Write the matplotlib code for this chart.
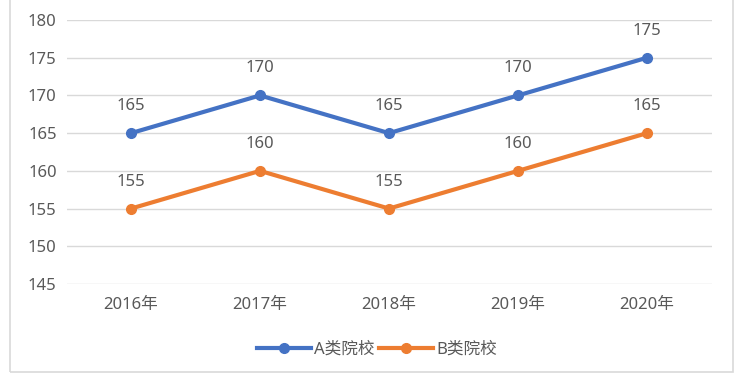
import matplotlib.pyplot as plt
from matplotlib.patches import Rectangle

plt.rcParams['font.family'] = ['Noto Sans', 'Noto Sans CJK SC', 'DejaVu Sans']

years = ["2016年", "2017年", "2018年", "2019年", "2020年"]
school_a = [165, 170, 165, 170, 175]
school_b = [155, 160, 155, 160, 165]

W, H = 746, 379
fig = plt.figure(figsize=(W / 100, H / 100), dpi=100)

# outer chart border (top edge is cropped in the reference)
fig.patches.append(Rectangle((10 / W, 1 - 372 / H), 723 / W, 372 / H + 0.05,
                             transform=fig.transFigure, fill=False,
                             edgecolor="#D9D9D9", linewidth=1.2))

ax = fig.add_axes([66.5 / W, 1 - 284 / H, 645 / W, 264 / H])
x = range(len(years))

ax.plot(x, school_a, color="#4472C4", lw=3, marker="o", ms=7, label="A类院校", zorder=3)
ax.plot(x, school_b, color="#ED7D31", lw=3, marker="o", ms=7, label="B类院校", zorder=3)

for xs, ys in [(x, school_a), (x, school_b)]:
    for xi, yi in zip(xs, ys):
        ax.annotate(str(yi), (xi, yi), xytext=(0, 27), textcoords="offset pixels",
                    ha="center", va="center", fontsize=12, color="#595959")

ax.set_xlim(-0.5, len(years) - 0.5)
ax.set_ylim(145, 180)
ax.set_yticks(range(145, 181, 5))
ax.set_xticks(list(x))
ax.set_xticklabels(years)
ax.grid(axis="y", color="#D9D9D9", lw=1)
ax.set_axisbelow(True)
for s in ax.spines.values():
    s.set_visible(False)
ax.tick_params(length=0, labelsize=12, labelcolor="#595959")
ax.tick_params(axis="y", pad=7)
ax.tick_params(axis="x", pad=9)

fig.legend(loc="center", bbox_to_anchor=(377 / W, 1 - 350 / H), ncol=2, frameon=False,
           fontsize=12, labelcolor="#595959", handlelength=3.2, columnspacing=0.3,
           handletextpad=0.2)

fig.savefig("out.png", dpi=100)
